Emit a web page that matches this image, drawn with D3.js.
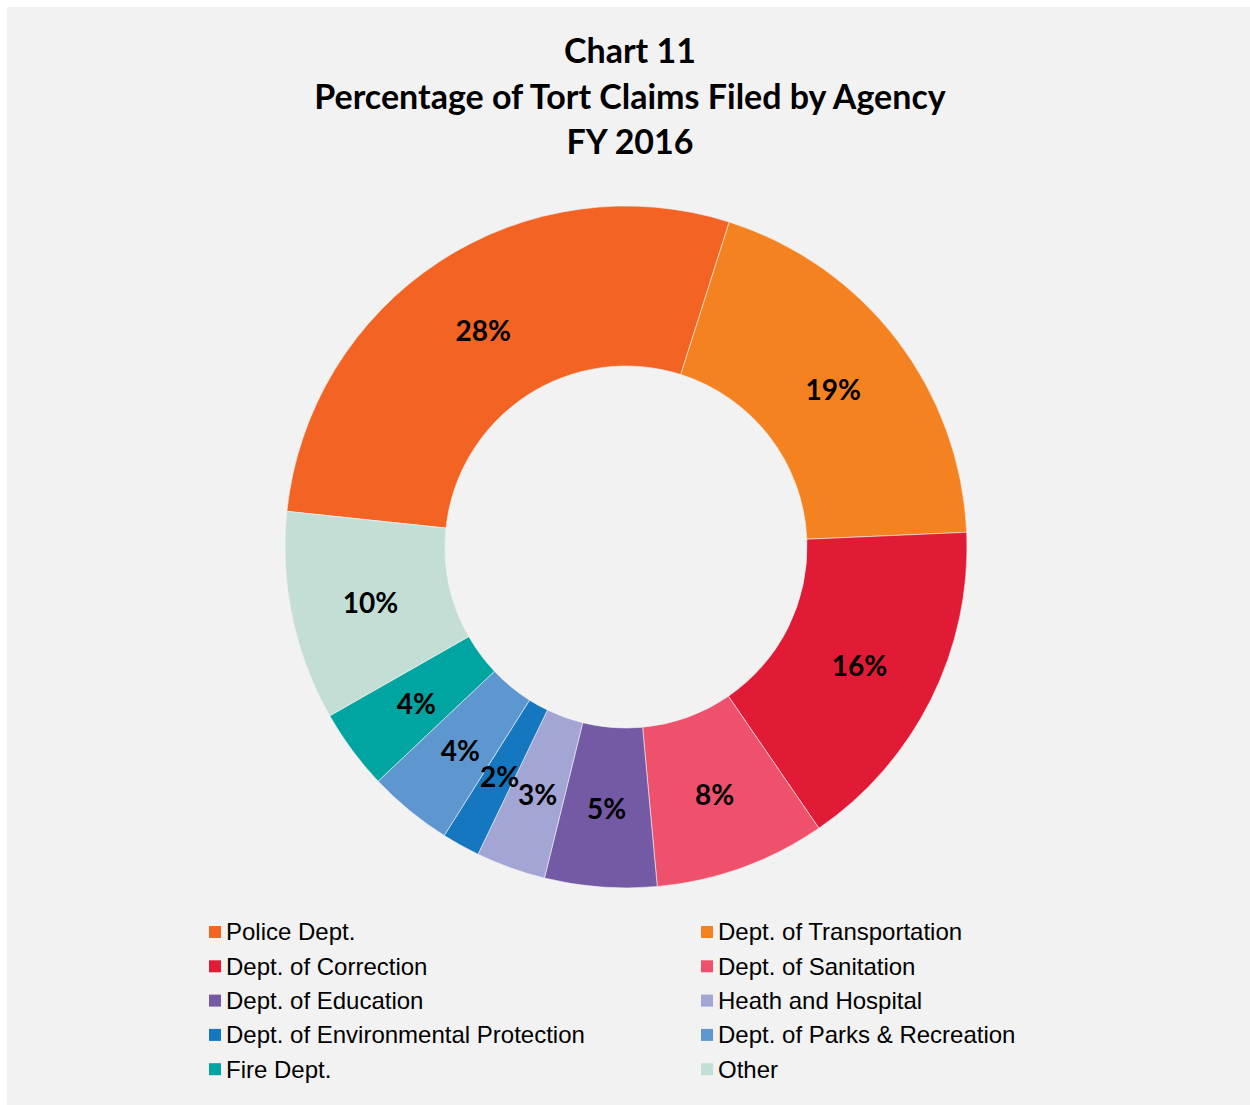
<!DOCTYPE html>
<html>
<head>
<meta charset="utf-8">
<script src="https://cdn.jsdelivr.net/npm/d3@7"></script>
<style>
  body { margin: 0; background: #ffffff; }
  svg { display: block; }
</style>
</head>
<body>
<div id="chartdiv"></div>
<script>
const width = 1250;
const height = 1105;

// data (share of claims, percent)
const agencies = ["Police Dept.", "Dept. of Transportation", "Dept. of Correction", "Dept. of Sanitation",
  "Dept. of Education", "Heath and Hospital", "Dept. of Environmental Protection",
  "Dept. of Parks & Recreation", "Fire Dept.", "Other"];
const shares = [28.2, 19.4, 16.1, 8.1, 5.3, 3.3, 1.8, 4.0, 3.8, 9.9];
const sliceColors = ["#f26324", "#f58220", "#e11b36", "#ef516d", "#7459a5", "#a3a5d4",
  "#1477c0", "#5e97d0", "#00a4a0", "#c3dfd5"];
const titleLines = ["Chart 11", "Percentage of Tort Claims Filed by Agency", "FY 2016"];

const cx = 626, cy = 547;
const outerR = 341;
const innerR = 181;
// first slice starts at ~276 degrees (clockwise from 12 o'clock)
const firstAngle = 276 * Math.PI / 180;

var svg = d3.select("div#chartdiv")
  .append("svg")
  .attr("width", width)
  .attr("height", height);

svg.append("rect")
  .attr("x", 7)
  .attr("y", 7)
  .attr("width", width - 7)
  .attr("height", height - 7)
  .attr("fill", "#f2f2f2");

// title
svg.selectAll("text.title")
  .data(titleLines)
  .enter()
  .append("text")
  .attr("class", "title")
  .attr("x", 630)
  .attr("y", (d, i) => 63 + i * 45.5)
  .attr("text-anchor", "middle")
  .style("font-family", "Lato, 'Open Sans', sans-serif")
  .style("font-weight", "bold")
  .style("font-size", "34px")
  .style("fill", "#000")
  .text(d => d);

var total = d3.sum(shares);
var pie = d3.pie()
  .sort(null)
  .startAngle(firstAngle)
  .endAngle(firstAngle + 2 * Math.PI)
  .value(d => d);

var arc = d3.arc()
  .innerRadius(innerR)
  .outerRadius(outerR);

var g = svg.append("g")
  .attr("transform", "translate(" + cx + "," + cy + ")");

var arcs = pie(shares);

g.selectAll("path.slice")
  .data(arcs)
  .enter()
  .append("path")
  .attr("class", "slice")
  .attr("d", arc)
  .attr("fill", (d, i) => sliceColors[i])
  .attr("stroke", "#f2f2f2")
  .attr("stroke-width", 0.6);

g.selectAll("text.pct")
  .data(arcs)
  .enter()
  .append("text")
  .attr("class", "pct")
  .attr("x", d => arc.centroid(d)[0])
  .attr("y", d => arc.centroid(d)[1])
  .attr("dy", "0.43em")
  .attr("text-anchor", "middle")
  .style("font-family", "Lato, 'Open Sans', sans-serif")
  .style("font-weight", "bold")
  .style("font-size", "28px")
  .style("fill", "#000")
  .text(d => Math.round(d.value / total * 100) + "%");

// legend, two columns
var legend = svg.selectAll("g.legend")
  .data(agencies)
  .enter()
  .append("g")
  .attr("class", "legend")
  .attr("transform", (d, i) => "translate(" + (i % 2 == 0 ? 209 : 701) + "," + (932 + Math.floor(i / 2) * 34.3) + ")");

legend.append("rect")
  .attr("x", 0)
  .attr("y", -6)
  .attr("width", 12)
  .attr("height", 12)
  .attr("fill", (d, i) => sliceColors[i]);

legend.append("text")
  .attr("x", 17)
  .attr("y", 0)
  .attr("dy", "0.35em")
  .style("font-family", "'Liberation Sans', Arial, sans-serif")
  .style("font-size", "24px")
  .style("fill", "#000")
  .text(d => d);
</script>
</body>
</html>
